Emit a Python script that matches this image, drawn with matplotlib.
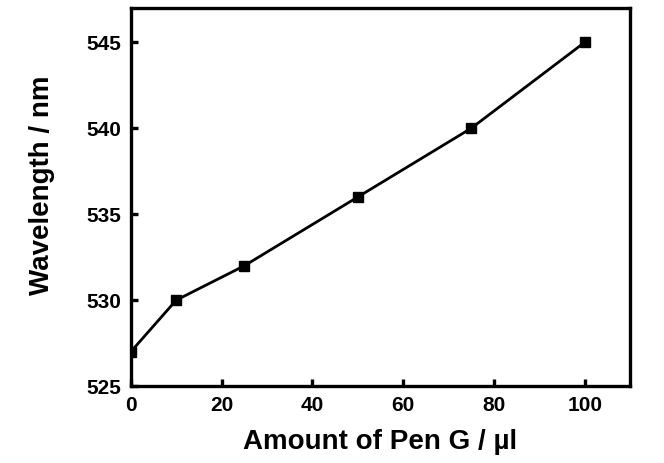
import matplotlib
matplotlib.use('Agg')
import matplotlib.pyplot as plt

plt.rc('font', family='Liberation Sans', weight='bold')

# Data
amount = [0, 10, 25, 50, 75, 100]
wavelength = [527, 530, 532, 536, 540, 545]
x_ticks = [0, 20, 40, 60, 80, 100]
y_ticks = [525, 530, 535, 540, 545]

fig = plt.figure(figsize=(6.64, 4.63), dpi=100)
ax = fig.add_axes([0.197, 0.166, 0.752, 0.817])

ax.plot(amount, wavelength, color='black', linewidth=2,
        marker='s', markersize=7, clip_on=True)

ax.set_xlim(0, 110)
ax.set_ylim(525, 547)
ax.set_xticks(x_ticks)
ax.set_yticks(y_ticks)

for s in ax.spines.values():
    s.set_linewidth(2.4)
ax.tick_params(direction='in', length=5, width=2.4, labelsize=15, pad=7)
for lab in ax.get_xticklabels() + ax.get_yticklabels():
    lab.set_fontweight('bold')

ax.set_xlabel('Amount of Pen G / \u00b5l', fontsize=20, fontweight='bold', labelpad=10)
ax.set_ylabel('Wavelength / nm', fontsize=20, fontweight='bold')
ax.yaxis.set_label_coords(-0.152, 0.53)

plt.savefig('out.png', dpi=100)
plt.close()
